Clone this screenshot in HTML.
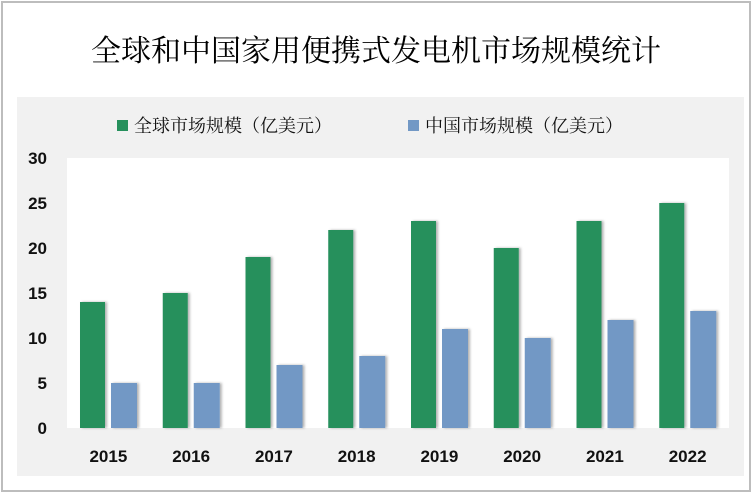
<!DOCTYPE html>
<html><head><meta charset="utf-8"><style>
body{margin:0;width:752px;height:493px;background:#fff;overflow:hidden;font-family:"Liberation Serif","Noto Serif CJK SC",serif}
#frame{position:absolute;left:1px;top:1px;width:746px;height:487px;border:2px solid #bdbdbd}
#title{position:absolute;left:0;width:752px;top:26px;text-align:center;font-size:30px;color:#000}
#panel{position:absolute;left:17px;top:97px;width:727px;height:379px;background:#f1f1f1}
.leg{position:absolute;top:112px;font-size:18px;color:#111;display:flex;align-items:center}
.sw{width:11px;height:11px;margin-right:6px}
</style></head><body>
<div id="frame"></div>
<div id="panel"></div>
<div id="title">全球和中国家用便携式发电机市场规模统计</div>
<div class="leg" style="left:117px"><div class="sw" style="background:#26905c"></div>全球市场规模（亿美元）</div>
<div class="leg" style="left:408px"><div class="sw" style="background:#7298c5"></div>中国市场规模（亿美元）</div>
<svg id="c" width="752" height="493" style="position:absolute;left:0;top:0">
<defs><filter id="sh" x="-20%" y="-5%" width="150%" height="110%"><feDropShadow dx="2" dy="0" stdDeviation="1.2" flood-color="#000" flood-opacity="0.3"/></filter></defs>
<rect x="67" y="158" width="662" height="270" fill="#fff"/>
</svg>
<script>
const categories=["2015","2016","2017","2018","2019","2020","2021","2022"];
const globalValues=[14,15,19,22,23,20,23,25];
const chinaValues=[5,5,7,8,11,10,12,13];
const yTicks=[0,5,10,15,20,25,30];
const svg=document.getElementById('c');const NS='http://www.w3.org/2000/svg';
const x0=67,x1=729,y0=428,y1=158,yMax=30;
const bw=(x1-x0)/categories.length;
const y=v=>y0-(v/yMax)*(y0-y1);
function mk(t,a){const e=document.createElementNS(NS,t);for(const k in a)e.setAttribute(k,a[k]);svg.appendChild(e);return e;}
yTicks.forEach(t=>{const e=mk('text',{x:47,y:y(t)+6,'text-anchor':'end','font-size':17,'font-weight':'bold','font-family':'Liberation Sans, sans-serif',fill:'#111'});e.textContent=t;

});
categories.forEach((c,i)=>{const cx=x0+i*bw;
const g=mk('rect',{x:cx+13,y:y(globalValues[i]),width:25,height:y0-y(globalValues[i]),fill:'#26905c',filter:'url(#sh)'});


const b=mk('rect',{x:cx+44,y:y(chinaValues[i]),width:26,height:y0-y(chinaValues[i]),fill:'#7298c5',filter:'url(#sh)'});


const t=mk('text',{x:cx+bw/2,y:462,'text-anchor':'middle','font-size':17,'font-weight':'bold','font-family':'Liberation Sans, sans-serif',fill:'#111'});t.textContent=c;

});
</script>
</body></html>
